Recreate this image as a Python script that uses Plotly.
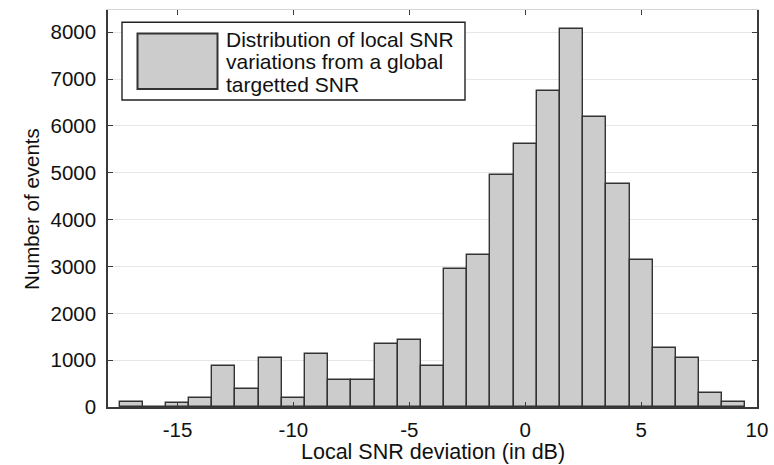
import plotly.graph_objects as go

# ---- data ----
bin_centers = [-17, -16, -15, -14, -13, -12, -11, -10, -9, -8, -7, -6, -5, -4,
               -3, -2, -1, 0, 1, 2, 3, 4, 5, 6, 7, 8, 9]
counts = [105, 0, 95, 200, 870, 393, 1055, 200, 1141, 570, 570, 1340, 1440, 870,
          2957, 3241, 4951, 5607, 6752, 8064, 6184, 4758, 3135, 1254, 1055, 299, 107]
x_ticks = [-15, -10, -5, 0, 5, 10]
x_tick_labels = ["-15", "-10", "-5", "0", "5", "10"]
y_ticks = [0, 1000, 2000, 3000, 4000, 5000, 6000, 7000, 8000]
legend_lines = ["Distribution of local SNR", "variations from a global", "targetted SNR"]
x_title = "Local SNR deviation (in dB)"
y_title = "Number of events"

W, H = 774, 465
L, R, T, B = 108, 17, 10, 58
PW, PH = W - L - R, H - T - B

def px(x):
    return (x - L) / PW

def py(y):
    return (H - B - y) / PH

FONT = "Liberation Sans, Arial, sans-serif"
TXT = "#111111"
DARK = "#3a3a3a"

fig = go.Figure()
fig.add_trace(go.Bar(
    x=bin_centers, y=counts, width=1,
    marker=dict(color="#cccccc", line=dict(color="#333333", width=1.4)),
    showlegend=False, hoverinfo="x+y",
))
fig.add_trace(go.Scatter(x=[], y=[], xaxis="x2", yaxis="y", showlegend=False))

fig.update_layout(
    width=W, height=H,
    margin=dict(l=L, r=R, t=T, b=B, autoexpand=False),
    paper_bgcolor="white", plot_bgcolor="white",
    bargap=0,
    font=dict(family=FONT, color=TXT, size=20),
    xaxis=dict(
        range=[-18, 10], tickvals=x_ticks, ticktext=x_tick_labels,
        ticks="inside", ticklen=5,
        tickcolor=DARK, tickwidth=1.3, showline=True, linecolor=DARK, linewidth=1.5,
        showgrid=False, zeroline=False, ticklabelstandoff=4,
        tickfont=dict(size=20.5, family=FONT, color=TXT),
    ),
    xaxis2=dict(
        range=[-18, 10], tickvals=x_ticks, overlaying="x", side="top",
        ticks="inside", ticklen=5, tickcolor=DARK, tickwidth=1.3,
        showline=True, linecolor="#d4d4d4", linewidth=1.2,
        showticklabels=False, showgrid=False, zeroline=False,
    ),
    yaxis=dict(
        range=[0, 8476], tickvals=y_ticks, ticks="inside", ticklen=5,
        tickcolor=DARK, tickwidth=1.3, showline=True, linecolor=DARK, linewidth=1.5,
        mirror="ticks", showgrid=True, gridcolor="#e6e6e6", gridwidth=1,
        zeroline=False, ticklabelstandoff=6,
        tickfont=dict(size=20.5, family=FONT, color=TXT),
    ),
)

# axis titles
fig.add_annotation(text=x_title, xref="paper", yref="paper",
                   x=px((L + W - R) / 2), y=py(452), xanchor="center", yanchor="middle",
                   showarrow=False, font=dict(size=21.5, family=FONT, color=TXT))
fig.add_annotation(text=y_title, xref="paper", yref="paper",
                   x=px(32), y=py(209), xanchor="center", yanchor="middle",
                   textangle=-90, showarrow=False,
                   font=dict(size=20.5, family=FONT, color=TXT))

# manual legend
fig.add_shape(type="rect", xref="paper", yref="paper",
              x0=px(122), x1=px(465), y0=py(100), y1=py(22.3),
              line=dict(color="#222222", width=1.4), fillcolor="white", layer="above")
fig.add_shape(type="rect", xref="paper", yref="paper",
              x0=px(137.5), x1=px(217.5), y0=py(89), y1=py(33.5),
              line=dict(color="#333333", width=2), fillcolor="#cccccc", layer="above")
for i, line in enumerate(legend_lines):
    fig.add_annotation(text=line, xref="paper", yref="paper",
                       x=px(224.5), y=py(39.5 + 22.4 * i), xanchor="left", yanchor="middle",
                       showarrow=False, borderpad=0,
                       font=dict(size=21, family=FONT, color=TXT))

fig.write_html("out.html")
